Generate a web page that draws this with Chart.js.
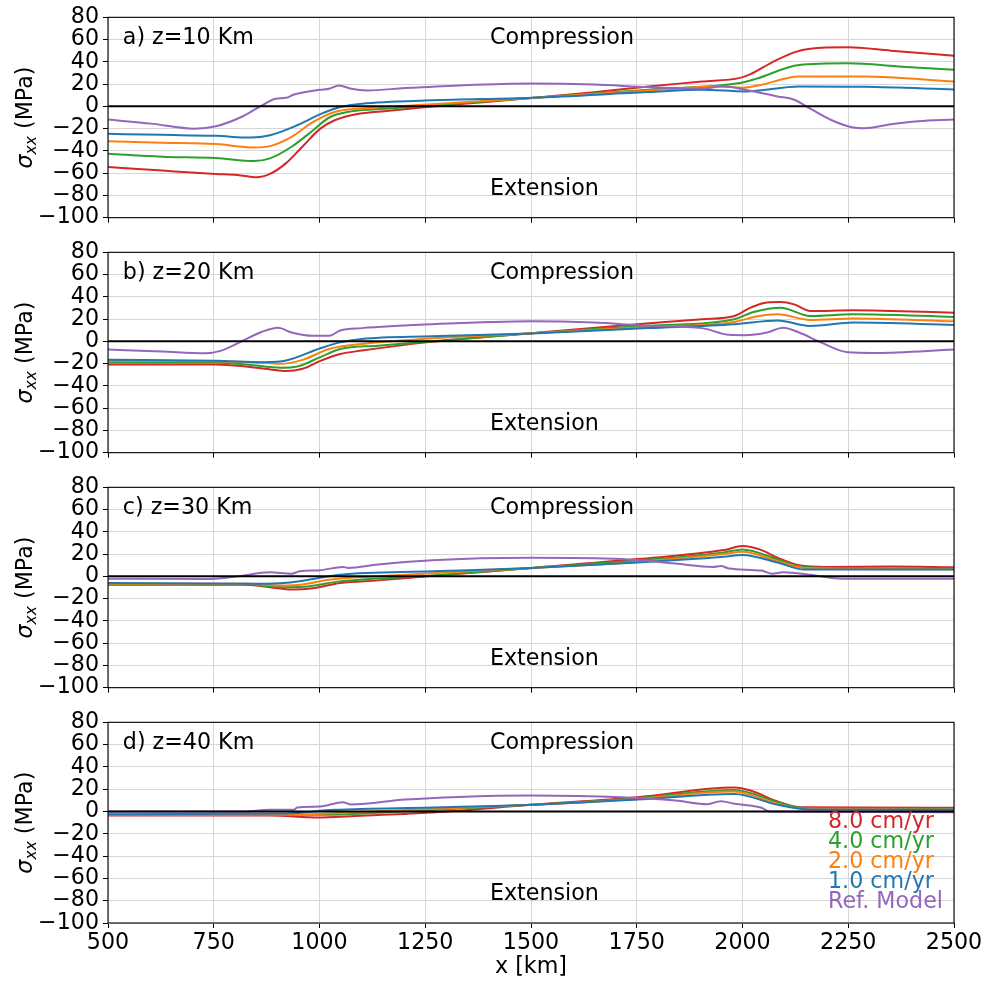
<!DOCTYPE html>
<html>
<head>
<meta charset="utf-8">
<title>Horizontal stress profiles</title>
<script src="https://cdn.jsdelivr.net/npm/chart.js@4.4.1/dist/chart.umd.min.js"></script>
<style>
  body { margin: 0; background: #fff; }
  #wrap { position: relative; width: 989px; height: 981px; }
  #wrap canvas { position: absolute; left: 0; }
</style>
</head>
<body>
<div id="wrap">
  <canvas id="p0" width="989" height="235" style="top:0px"></canvas>
  <canvas id="p1" width="989" height="235" style="top:235px"></canvas>
  <canvas id="p2" width="989" height="235" style="top:470px"></canvas>
  <canvas id="p3" width="989" height="276" style="top:705px"></canvas>
</div>
<script>
// axis ranges
const xMin = 500, xMax = 2500, xStep = 250;
const yMin = -100, yMax = 80, yStep = 20;

const seriesLabels = ['8.0 cm/yr', '4.0 cm/yr', '2.0 cm/yr', '1.0 cm/yr', 'Ref. Model'];
const seriesColors = ['#d62728', '#2ca02c', '#ff7f0e', '#1f77b4', '#9467bd'];
const panelTitles = ['a) z=10 Km', 'b) z=20 Km', 'c) z=30 Km', 'd) z=40 Km'];
const zeroLine = [[500, 0], [2500, 0]];

// sigma_xx (MPa) along x (km), z = 10 km
const aRed = [[500,-54.5],[628,-57.7],[755,-60.7],[806,-61.6],[851,-63.7],[883,-60.7],[921,-51],[960,-36],[1002,-20],[1036,-12.5],[1087,-7],[1164,-4],[1253,-0.6],[1394,4],[1502,7.5],[1649,12.8],[1777,17.9],[1904,22.3],[1994,25.6],[2019,29],[2070,39.6],[2122,48.5],[2160,51.8],[2249,53],[2351,50],[2500,45.5]];
const aGreen = [[500,-42.6],[628,-45.2],[755,-46.4],[845,-49.1],[883,-46.7],[934,-36.3],[985,-21.4],[1023,-10],[1075,-4.5],[1164,-2],[1266,1],[1502,7.5],[1777,15],[1994,21],[2032,24.7],[2134,37.2],[2249,38.7],[2377,35.7],[2500,33]];
const aOrange = [[500,-31.3],[628,-32.7],[755,-33.9],[845,-36.9],[883,-35.7],[934,-27.4],[985,-14],[1036,-5],[1100,-2],[1266,1.8],[1502,7.5],[1777,14.3],[1943,17.9],[2001,16.7],[2040,19],[2134,26.8],[2288,26.8],[2500,22.3]];
const aBlue = [[500,-24.7],[628,-25.6],[755,-26.5],[838,-28],[883,-25.9],[947,-17],[1002,-7],[1049,-0.6],[1100,2.4],[1266,5.4],[1502,7.7],[1777,12.8],[1904,14.9],[2006,13.4],[2134,17.9],[2288,17.6],[2500,15.2]];
const aRef = [[500,-11.9],[602,-15.5],[704,-20],[755,-17.9],[819,-8.9],[864,0.9],[896,6.8],[921,7.7],[940,10.7],[1002,14.9],[1023,15.8],[1046,18.8],[1075,15.8],[1113,14.3],[1202,16.4],[1330,18.8],[1502,20.5],[1649,19.6],[1777,17.3],[1904,16],[1955,18],[2006,14.9],[2083,8.9],[2122,6],[2160,-2],[2211,-12.5],[2262,-19],[2288,-19.6],[2351,-16],[2415,-13.4],[2500,-11.9]];

// z = 20 km
const bRed = [[500,-20.8],[755,-20.8],[819,-22.3],[883,-25.2],[921,-26.7],[960,-24.6],[1002,-17.5],[1049,-11.3],[1100,-8.3],[1253,-0.9],[1502,7.4],[1751,15.4],[1904,19.9],[1981,22.8],[2019,30.3],[2058,35],[2090,35.3],[2122,33.2],[2160,27.3],[2262,27.9],[2351,27.3],[2500,25.8]];
const bGreen = [[500,-18.7],[755,-19],[832,-21],[909,-23.7],[947,-22.6],[1002,-14.2],[1049,-6.8],[1138,-3.9],[1502,7.4],[1777,14],[1981,19.9],[2026,26.4],[2090,30.3],[2160,22.8],[2262,24.3],[2500,22]];
const bOrange = [[500,-17.2],[755,-17.8],[870,-19.3],[909,-20.2],[960,-16.6],[1023,-6.8],[1100,-2.4],[1502,7.4],[1777,12.8],[1981,17.5],[2032,22.3],[2083,24.3],[2160,19.3],[2262,20.5],[2500,18.1]];
const bBlue = [[500,-16.6],[755,-17.5],[870,-18.7],[921,-17.2],[1002,-6.2],[1049,-0.9],[1100,2.1],[1266,4.5],[1502,7.1],[1777,11.9],[1981,15.4],[2083,18.7],[2160,13.9],[2262,16.9],[2500,14.8]];
const bRef = [[500,-7.4],[628,-9.2],[730,-10.7],[768,-8.3],[819,0.6],[864,8.6],[902,12.2],[934,8],[985,5],[1023,5],[1049,9.8],[1100,11.9],[1266,15.4],[1502,18.1],[1649,16.9],[1777,14],[1904,11.9],[1968,5.9],[2006,5.6],[2058,8],[2096,12.2],[2134,8],[2185,-0.9],[2249,-9.8],[2313,-10.4],[2500,-7.4]];

// z = 30 km
const cRed = [[500,-7.6],[819,-7.6],[883,-9.7],[934,-11.8],[985,-10.6],[1049,-6],[1138,-3.6],[1253,0],[1502,7.6],[1751,15.5],[1956,23.6],[2000,27.3],[2045,23.6],[2083,16.7],[2134,10],[2198,8.5],[2351,8.8],[2500,8.2]];
const cGreen = [[500,-7],[819,-7],[921,-9.7],[972,-9.1],[1049,-4.5],[1253,0.3],[1502,7.6],[1751,14.2],[1956,21.5],[2000,24.2],[2083,15.2],[2134,9.1],[2198,7.6],[2500,7]];
const cOrange = [[500,-6.7],[832,-6.7],[909,-8.2],[960,-7.3],[1023,-3],[1138,0],[1502,7.6],[1751,13],[1956,20],[2000,22.1],[2083,13.6],[2147,7.6],[2500,6.4]];
const cBlue = [[500,-6],[857,-6.7],[921,-5.8],[998,-1.5],[1049,1.5],[1266,4.5],[1502,7.6],[1751,12.4],[1956,17.6],[2000,19.1],[2083,12.4],[2147,6.1],[2500,6.1]];
const cRef = [[500,-2.1],[743,-2.4],[806,0],[883,3.6],[934,2.4],[953,4.5],[1002,5.5],[1055,8.5],[1068,7.6],[1138,10.6],[1266,14.5],[1502,16.7],[1713,15.5],[1841,11.5],[1930,8.5],[1949,9.4],[1968,7],[2045,5.2],[2070,2.4],[2096,3.6],[2160,1.5],[2236,-2.1],[2500,-2.1]];

// z = 40 km
const dRed = [[500,-3.6],[883,-3.6],[998,-5.4],[1075,-4.2],[1253,-1.2],[1502,6],[1751,12.8],[1981,21.5],[2019,18.8],[2083,9],[2134,3.9],[2500,3.3]];
const dGreen = [[500,-3],[921,-3],[1011,-3],[1138,-1.2],[1502,6],[1751,12],[1981,19.4],[2083,8.4],[2147,3],[2500,2.4]];
const dOrange = [[500,-3],[947,-2.7],[1075,-0.6],[1502,6],[1751,11.3],[1981,17.9],[2083,6.9],[2147,2.4],[2500,1.8]];
const dBlue = [[500,-2.4],[921,-1.8],[1036,1.5],[1266,3.6],[1502,6],[1751,10.7],[1981,15.8],[2083,6],[2160,1.8],[2500,1.5]];
const dRef = [[500,0],[819,0],[883,1.5],[940,1.5],[947,3.6],[1002,4.5],[1055,8.4],[1075,6.3],[1202,10.7],[1330,13.1],[1502,14.3],[1713,12.8],[1841,9.9],[1917,6.6],[1949,9.3],[1981,6.9],[2045,3.3],[2064,0],[2500,-0.6]];

const panels = [
  [aRed, aGreen, aOrange, aBlue, aRef],
  [bRed, bGreen, bOrange, bBlue, bRef],
  [cRed, cGreen, cOrange, cBlue, cRef],
  [dRed, dGreen, dOrange, dBlue, dRef]
];

const FONT = 'DejaVu Sans';
const FSIZE = 22.2;
const gridColor = '#d6d6d6';
Chart.defaults.font.family = FONT;
Chart.defaults.font.size = FSIZE;
Chart.defaults.color = '#000';

const toPts = arr => arr.map(p => ({ x: p[0], y: p[1] }));
const minus = v => String(v).replace('-', '\u2212');

// black box round the plot area
const framePlugin = {
  id: 'frame',
  afterDraw(chart) {
    const { ctx, chartArea: a } = chart;
    ctx.save();
    ctx.strokeStyle = '#000';
    ctx.lineWidth = 1.1;
    ctx.strokeRect(a.left, a.top, a.right - a.left, a.bottom - a.top);
    ctx.restore();
  }
};

// panel title and the Compression / Extension hints, placed in data units
const notesPlugin = {
  id: 'notes',
  afterDatasetsDraw(chart, args, opts) {
    const { ctx, scales: { x, y } } = chart;
    ctx.save();
    ctx.font = FSIZE + 'px ' + FONT;
    ctx.fillStyle = '#000';
    ctx.textBaseline = 'alphabetic';
    ctx.textAlign = 'left';
    ctx.fillText(opts.title, x.getPixelForValue(535), y.getPixelForValue(56));
    ctx.fillText('Compression', x.getPixelForValue(1403), y.getPixelForValue(56));
    ctx.fillText('Extension', x.getPixelForValue(1403), y.getPixelForValue(-79.5));
    ctx.restore();
  }
};

// sigma_xx (MPa) with italic subscript, rotated
const yTitlePlugin = {
  id: 'yTitle',
  afterDraw(chart) {
    const { ctx, chartArea: a } = chart;
    const parts = [
      { t: '\u03c3', f: 'italic ' + FSIZE + 'px ' + FONT, dy: 0 },
      { t: 'xx', f: 'italic ' + (FSIZE * 0.7) + 'px ' + FONT, dy: 4 },
      { t: ' (MPa)', f: FSIZE + 'px ' + FONT, dy: 0 }
    ];
    ctx.save();
    let total = 0;
    parts.forEach(p => { ctx.font = p.f; p.w = ctx.measureText(p.t).width; total += p.w; });
    ctx.translate(32, (a.top + a.bottom) / 2);
    ctx.rotate(-Math.PI / 2);
    ctx.fillStyle = '#000';
    ctx.textBaseline = 'alphabetic';
    let cx = -total / 2;
    parts.forEach(p => { ctx.font = p.f; ctx.fillText(p.t, cx, p.dy); cx += p.w; });
    ctx.restore();
  }
};

// coloured text legend at the lower right of the last panel
const textLegendPlugin = {
  id: 'textLegend',
  afterDraw(chart, args, opts) {
    if (!opts.show) return;
    const { ctx, chartArea: a } = chart;
    const items = chart.data.datasets.filter(d => d.label !== 'zero');
    ctx.save();
    ctx.font = FSIZE + 'px ' + FONT;
    ctx.textAlign = 'left';
    ctx.textBaseline = 'alphabetic';
    items.forEach((d, i) => {
      ctx.fillStyle = d.borderColor;
      ctx.fillText(d.label, a.right - 126, a.bottom - 15 - 20 * (items.length - 1 - i));
    });
    ctx.restore();
  }
};

function makePanel(idx) {
  const last = idx === panels.length - 1;
  const datasets = panels[idx].map((series, i) => ({
    label: seriesLabels[i],
    data: toPts(series),
    borderColor: seriesColors[i],
    borderWidth: 2,
    pointRadius: 0,
    cubicInterpolationMode: 'monotone',
    order: seriesLabels.length - i
  }));
  datasets.push({
    label: 'zero',
    data: toPts(zeroLine),
    borderColor: '#000',
    borderWidth: 2,
    pointRadius: 0,
    order: 0
  });

  return new Chart(document.getElementById('p' + idx), {
    type: 'line',
    data: { datasets },
    options: {
      responsive: false,
      devicePixelRatio: 1,
      animation: false,
      events: [],
      layout: { autoPadding: false, padding: { top: 16, right: 35, left: 0, bottom: 0 } },
      plugins: {
        legend: { display: false },
        tooltip: { enabled: false },
        notes: { title: panelTitles[idx] },
        textLegend: { show: last }
      },
      scales: {
        x: {
          type: 'linear',
          min: xMin,
          max: xMax,
          border: { display: false },
          grid: { color: gridColor, lineWidth: 1, tickColor: '#000', tickLength: 5 },
          ticks: { stepSize: xStep, autoSkip: false, maxRotation: 0, display: last, padding: 2, callback: v => String(v) },
          title: { display: last, text: 'x [km]', padding: 0 },
          afterFit: s => { s.height = last ? 58 : 17; }
        },
        y: {
          min: yMin,
          max: yMax,
          border: { display: false },
          grid: { color: gridColor, lineWidth: 1, tickColor: '#000', tickLength: 5 },
          ticks: { stepSize: yStep, autoSkip: false, padding: 4, callback: v => minus(v) },
          afterFit: s => { s.width = 108; }
        }
      }
    },
    plugins: [framePlugin, notesPlugin, yTitlePlugin, textLegendPlugin]
  });
}

panels.forEach((p, i) => makePanel(i));
</script>
</body>
</html>
